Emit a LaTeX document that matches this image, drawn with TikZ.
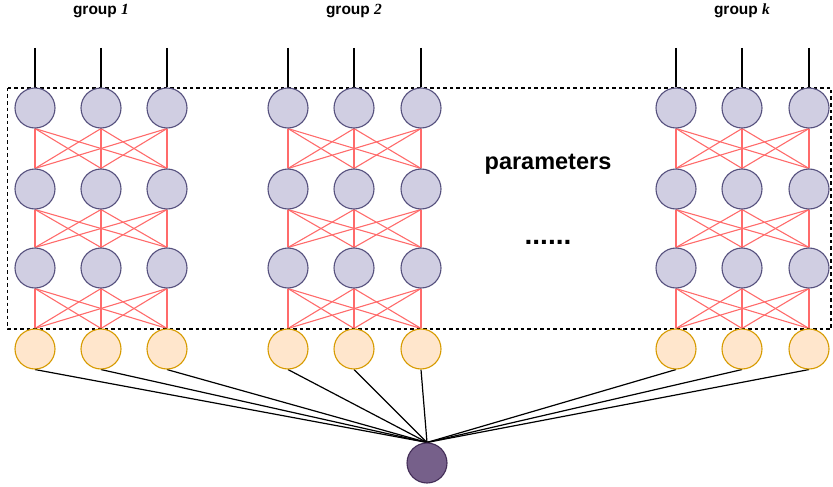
\documentclass[tikz,border=0pt]{standalone}
\usepackage{fontspec}
\setmainfont{Liberation Sans}
\newfontfamily\serifit{Liberation Serif}
\pgfdeclarelayer{bg}
\pgfsetlayers{bg,main}
\definecolor{pfill}{HTML}{D0CEE2}
\definecolor{pdraw}{HTML}{56517E}
\definecolor{ofill}{HTML}{FFE6CC}
\definecolor{odraw}{HTML}{D79B00}
\definecolor{redge}{HTML}{FF6B6B}
\definecolor{bfill}{HTML}{76608A}
\definecolor{bdraw}{HTML}{432D57}
\tikzset{
  pnode/.style={circle,draw=pdraw,fill=pfill,line width=1.1pt,minimum size=40pt,inner sep=0pt},
  onode/.style={circle,draw=odraw,fill=ofill,line width=1.1pt,minimum size=40pt,inner sep=0pt},
  bnode/.style={circle,draw=bdraw,fill=bfill,line width=1.1pt,minimum size=40pt,inner sep=0pt},
  redline/.style={draw=redge,line width=1.1pt},
  blkline/.style={draw=black,line width=1.2pt},
  title/.style={anchor=base,inner sep=0pt,font=\fontsize{15.5}{18}\selectfont\bfseries},
  bigtext/.style={anchor=base,inner sep=0pt,font=\fontsize{23.5}{27}\selectfont\bfseries},
  frame/.style={draw=black,line width=1.1pt,dash pattern=on 3.5pt off 3pt}
}
\begin{document}
\begin{tikzpicture}[x=1pt,y=-1pt]
\useasboundingbox (0,0) rectangle (833,487);
\draw[frame] (7.5,88) rectangle (831,329);
\node[title] (t1) at (101,14.5) {group {\serifit\itshape 1}};
\node[title] (t2) at (354,14.5) {group {\serifit\itshape 2}};
\node[title] (t3) at (742,14.5) {group {\serifit\itshape k}};
\node[bigtext] (par) at (548,169) {parameters};
\node[anchor=base,inner sep=0pt,font=\fontsize{28}{32}\selectfont\bfseries] (dots) at (548,244) {......};
\node[bnode] (out) at (427,463) {};
\foreach \g/\xa/\xb/\xc in {1/35/101/167, 2/288/354/421, 3/676/742/809}{
  \foreach \c/\x in {1/\xa, 2/\xb, 3/\xc}{
    \foreach \r/\y in {1/108, 2/189, 3/268}{
      \node[pnode] (n-\g-\r-\c) at (\x,\y) {};
    }
    \node[onode] (n-\g-4-\c) at (\x,349) {};
    \coordinate (top-\g-\c) at (\x,48);
    \begin{pgfonlayer}{bg}
      \draw[blkline] (top-\g-\c) -- (n-\g-1-\c.north);
      \draw[blkline] (n-\g-4-\c.south) -- (out.north);
    \end{pgfonlayer}
  }
  \begin{pgfonlayer}{bg}
  \foreach \r in {1,2,3}{
    \pgfmathtruncatemacro{\rn}{\r+1}
    \foreach \a in {1,2,3}{
      \foreach \b in {1,2,3}{
        \draw[redline] (n-\g-\r-\a.south) -- (n-\g-\rn-\b.north);
      }
    }
  }
  \end{pgfonlayer}
}
\end{tikzpicture}
\end{document}
